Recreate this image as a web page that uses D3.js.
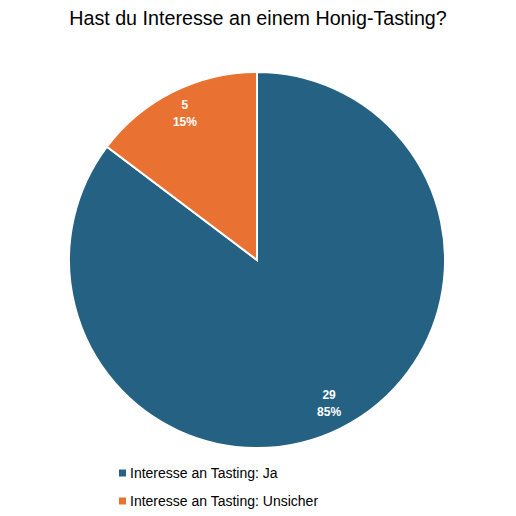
<!DOCTYPE html>
<meta charset='utf-8'>
<title>Honig-Tasting</title>
<style>
  body { margin: 0; background: #fff; font-family: 'Liberation Sans', Arial, Helvetica, sans-serif; }
  svg { display: block; }
  path.slice { stroke: #fff; stroke-width: 2px; }
  .label { fill: #fff; font-weight: bold; font-size: 12px; text-anchor: middle; }
</style>
<body>
<script src='https://cdn.jsdelivr.net/npm/d3@7'></script>
<script>

  var categories = ['Interesse an Tasting: Ja', 'Interesse an Tasting: Unsicher']
  var counts = [29, 5]
  var colors = ['#246183', '#e97233']

  var width = 516, height = 516, radius = 188
  var cx = 257, cy = 260

  var data = categories.map(function(c, i) { return { label: c, value: counts[i] } })
  var total = d3.sum(counts)

  var svg = d3.select('body').append('svg')
    .attr('width', width)
    .attr('height', height)

  svg.append('text')
    .attr('x', width / 2)
    .attr('y', 25)
    .attr('text-anchor', 'middle')
    .style('font-size', '19.7px')
    .text('Hast du Interesse an einem Honig-Tasting?')

  var color = d3.scaleOrdinal().domain(categories).range(colors)

  var pie = d3.pie().sort(null).value(function(d) { return d.value })
  var arc = d3.arc().innerRadius(0).outerRadius(radius)
  var labelArc = d3.arc().innerRadius(radius * 0.86).outerRadius(radius * 0.86)

  var g = svg.append('g').attr('transform', 'translate(' + cx + ',' + cy + ')')

  var arcs = pie(data)

  g.selectAll('path.slice')
    .data(arcs)
    .enter().append('path')
    .attr('class', 'slice')
    .attr('d', arc)
    .style('fill', function(d) { return color(d.data.label) })

  var lab = g.selectAll('text.label')
    .data(arcs)
    .enter().append('text')
    .attr('class', 'label')
    .attr('transform', function(d) { return 'translate(' + labelArc.centroid(d) + ')' })

  lab.append('tspan').attr('x', 0).attr('dy', '-0.5em').text(function(d) { return d.data.value })
  lab.append('tspan').attr('x', 0).attr('dy', '1.4em')
    .text(function(d) { return Math.round(d.data.value / total * 100) + '%' })

  /* legend */
  var legend = svg.append('g').attr('transform', 'translate(119,473)')
  var item = legend.selectAll('g')
    .data(categories)
    .enter().append('g')
    .attr('transform', function(d, i) { return 'translate(0,' + i * 28 + ')' })

  item.append('rect')
    .attr('x', 0).attr('y', -3.5)
    .attr('width', 7).attr('height', 7)
    .style('fill', function(d) { return color(d) })

  item.append('text')
    .attr('x', 11)
    .attr('dy', '0.35em')
    .style('font-size', '14px')
    .text(function(d) { return d })

</script>
</body>
